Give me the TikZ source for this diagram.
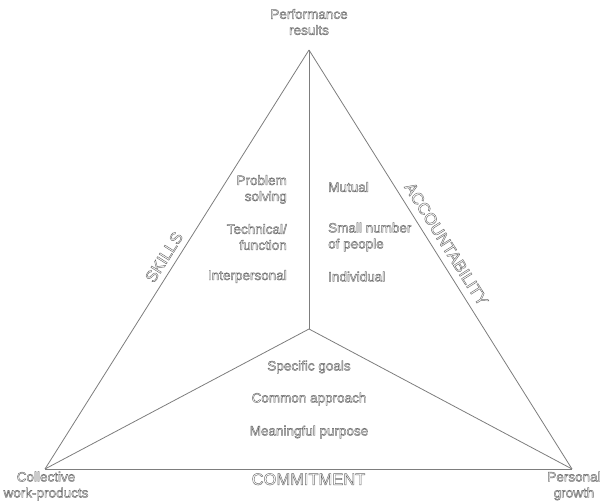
\documentclass[tikz,border=0pt]{standalone}
\usepackage{fontspec}
\setmainfont{Liberation Sans}
\usetikzlibrary{positioning}
\usepackage{xcolor}
\definecolor{linegray}{RGB}{125,125,125}
% hollow letters: stroke only, grey outline
\newcommand{\olt}[1]{\special{pdf:code q 1 Tr 0.45 w 0.42 G}#1\special{pdf:code Q}}

\begin{document}
\begin{tikzpicture}[x=1pt,y=1pt,
  lbl/.style={font=\fontsize{13.5}{16}\selectfont, inner sep=1pt},
  sidelbl/.style={font=\fontsize{16.5}{18}\selectfont, inner sep=1pt},
  edge/.style={draw=linegray, line width=0.8pt}]
\useasboundingbox (0,0) rectangle (600,503);

% corners of the triangle and the inner junction
\coordinate (apex) at (309,453);
\coordinate (mid) at (309,174);
\coordinate (left) at (45,34);
\coordinate (right) at (572,34);

\draw[edge] (left) -- (apex) node[sidelbl, pos=0.49, sloped, above=5pt] (skills) {\olt{SKILLS}};
\draw[edge] (apex) -- (right) node[sidelbl, pos=0.48, sloped, above=6pt] (acc) {\olt{ACCOUNTABILITY}};
\draw[edge] (left) -- (right) node[sidelbl, midway, below=3pt] (commit) {\olt{COMMITMENT}};
\draw[edge] (apex) -- (mid);
\draw[edge] (mid) -- (left);
\draw[edge] (mid) -- (right);

% corner labels
\node[lbl, align=center] (perf) at (309,481) {\olt{Performance}\\\olt{results}};
\node[lbl, align=center] (coll) at (46,17) {\olt{Collective}\\\olt{work-products}};
\node[lbl, align=center] (pers) at (574,17) {\olt{Personal}\\\olt{growth}};

% skills column
\node[lbl, anchor=east, align=right] (prob) at (288,313.5) {\olt{Problem}\\\olt{solving}};
\node[lbl, anchor=east, align=right] (tech) at (288,266) {\olt{Technical/}\\\olt{function}};
\node[lbl, anchor=east, align=right] (inter) at (288,226.5) {\olt{Interpersonal}};

% accountability column
\node[lbl, anchor=west, align=left] (mutual) at (327,316) {\olt{Mutual}};
\node[lbl, anchor=west, align=left] (small) at (327,266) {\olt{Small number}\\\olt{of people}};
\node[lbl, anchor=west, align=left] (indiv) at (327,226.5) {\olt{Individual}};

% commitment block
\node[lbl] (goals) at (309,136) {\olt{Specific goals}};
\node[lbl] (approach) at (309,104) {\olt{Common approach}};
\node[lbl] (purpose) at (309,71) {\olt{Meaningful purpose}};
\end{tikzpicture}
\end{document}
